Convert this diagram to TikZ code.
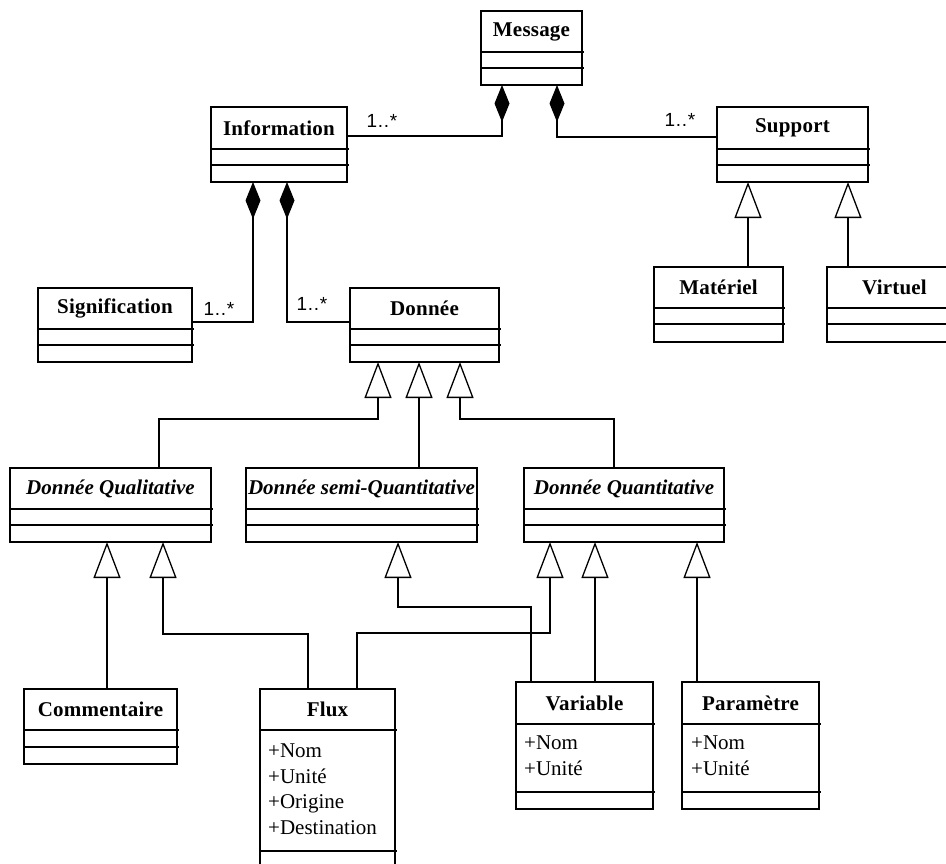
\documentclass[tikz,border=0pt]{standalone}
\usepackage{fontspec}
\setmainfont{Liberation Serif}
\setsansfont{Liberation Sans}
\usetikzlibrary{arrows.meta,calc}
\tikzset{
  clsbox/.style={draw, line width=1.3pt, inner sep=0pt, outer sep=0pt, rectangle},
  sepline/.style={line width=1.3pt},
  clstitle/.style={font=\fontsize{21}{25}\selectfont\bfseries\addfontfeature{LetterSpace=1}, inner sep=0pt},
  abstitle/.style={font=\fontsize{21}{25}\selectfont\bfseries\itshape},
  attr/.style={font=\fontsize{21}{25}\selectfont, inner sep=0pt, anchor=base west},
  mult/.style={font=\sffamily\fontsize{19}{22}\selectfont\addfontfeature{LetterSpace=4}, inner sep=0pt},
  comp/.style={line width=1.3pt, {Diamond[length=37pt,width=15pt]}-},
  gen/.style={line width=1.3pt, -{Triangle[open,length=36pt,width=27pt,fill=white]}},
}
% #1 name, #2 left, #3 top, #4 right, #5 sep1, #6 sep2, #7 bottom, #8 title
\newcommand{\umlcls}[8]{%
  \node[clsbox, minimum width={#4-#2}, minimum height={#7-#3}, anchor=north west] (#1) at (#2,#3) {};
  \draw[sepline] (#2,#5) -- ({#4+2},#5);
  \draw[sepline] (#2,#6) -- ({#4+2},#6);
  \node[clstitle] (#1-t) at ({(#2+#4)/2},{(#3+#5)/2}) {#8};
}
\newcommand{\umlabs}[8]{%
  \node[clsbox, minimum width={#4-#2}, minimum height={#7-#3}, anchor=north west] (#1) at (#2,#3) {};
  \draw[sepline] (#2,#5) -- ({#4+2},#5);
  \draw[sepline] (#2,#6) -- ({#4+2},#6);
  \node[abstitle, inner sep=0pt] (#1-t) at ({(#2+#4)/2},{(#3+#5)/2}) {#8};
}
\begin{document}
\begin{tikzpicture}[x=1pt,y=-1pt]
\useasboundingbox (0,0) rectangle (946,863);
\fill[white] (0,0) rectangle (946,863);
\clip (0,0) rectangle (946,863);

% classes
\umlcls{Message}{481}{11}{582}{52}{68}{85}{Message}
\umlcls{Information}{211}{107}{347}{149}{165}{182}{Information}
\umlcls{Support}{717}{107}{868}{149}{165}{182}{Support}
\umlcls{Signification}{38}{288}{192}{329}{345}{362}{Signification}
\umlcls{Donnee}{350}{288}{499}{329}{345}{362}{Donnée}
\umlcls{Materiel}{654}{267}{783}{308}{324}{342}{Matériel}
\umlcls{Virtuel}{827}{267}{962}{308}{324}{342}{Virtuel}
\umlabs{DQual}{10}{468}{211}{509}{525}{542}{Donnée Qualitative}
\umlabs{DSemi}{246}{468}{477}{509}{525}{542}{Donnée semi-Quantitative}
\umlabs{DQuant}{524}{468}{724}{509}{525}{542}{Donnée Quantitative}
\umlcls{Commentaire}{24}{689}{177}{730}{747}{764}{Commentaire}
\umlcls{Flux}{260}{689}{395}{730}{851}{880}{Flux}
\umlcls{Variable}{516}{682}{653}{724}{792}{809}{Variable}
\umlcls{Parametre}{682}{682}{819}{724}{792}{809}{Paramètre}

% attributes
\node[attr] (flux-a1) at (268,757) {+Nom};
\node[attr] (flux-a2) at (268,783) {+Unité};
\node[attr] (flux-a3) at (268,808) {+Origine};
\node[attr] (flux-a4) at (268,834) {+Destination};
\node[attr] (var-a1) at (524,749) {+Nom};
\node[attr] (var-a2) at (524,775) {+Unité};
\node[attr] (par-a1) at (691,749) {+Nom};
\node[attr] (par-a2) at (691,775) {+Unité};

% compositions
\draw[comp] ($(Message.south west)+(21,0)$) |- ($(Information.north east)+(0,29)$);
\draw[comp] ($(Message.south west)+(76,0)$) |- ($(Support.north west)+(0,30)$);
\draw[comp] ($(Information.south west)+(42,0)$) |- ($(Signification.north east)+(0,34)$);
\draw[comp] ($(Information.south west)+(76,0)$) |- ($(Donnee.north west)+(0,34)$);

% multiplicities
\node[mult] (m1) at (382,121) {1..*};
\node[mult] (m2) at (680,120) {1..*};
\node[mult] (m3) at (219,309) {1..*};
\node[mult] (m4) at (312,304) {1..*};

% generalizations
\draw[gen] ($(Materiel.north west)+(94,0)$) -- ($(Support.south west)+(31,0)$);
\draw[gen] ($(Virtuel.north west)+(21,0)$) -- ($(Support.south west)+(131,0)$);
\draw[gen] ($(DQual.north west)+(149,0)$) -- ++(0,-49) -| ($(Donnee.south west)+(28,0)$);
\draw[gen] ($(DSemi.north west)+(173,0)$) -- ($(Donnee.south west)+(69,0)$);
\draw[gen] ($(DQuant.north west)+(90,0)$) -- ++(0,-49) -| ($(Donnee.south west)+(110,0)$);
\draw[gen] ($(Commentaire.north west)+(83,0)$) -- ($(DQual.south west)+(97,0)$);
\draw[gen] ($(Flux.north west)+(48,0)$) -- ++(0,-55) -| ($(DQual.south west)+(153,0)$);
\draw[gen] ($(Variable.north west)+(15,0)$) -- ++(0,-75) -| ($(DSemi.south west)+(152,0)$);
\draw[gen] ($(Flux.north west)+(97,0)$) -- ++(0,-56) -| ($(DQuant.south west)+(26,0)$);
\draw[gen] ($(Variable.north west)+(79,0)$) -- ($(DQuant.south west)+(71,0)$);
\draw[gen] ($(Parametre.north west)+(15,0)$) -- ($(DQuant.south west)+(173,0)$);
\end{tikzpicture}
\end{document}
